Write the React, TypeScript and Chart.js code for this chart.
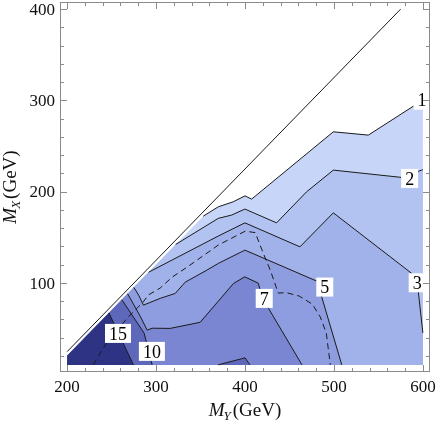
import React, { useEffect, useRef } from "react";
import { Chart, registerables } from "chart.js";

Chart.register(...registerables);

type P = [number, number];

// ---- data ----
const xTicks = [200, 300, 400, 500, 600];
const yTicks = [100, 200, 300, 400];
const minorStep = 20;

const levels = [1, 2, 3, 5, 7, 10, 15];
const bandColors = ["#c7d5f8", "#b3c3f1", "#a1b1e9", "#8e9de0", "#7a86d1", "#5e68bb", "#2e3383"];

const contour1: P[] = [[353, 173], [370, 183.3], [386.8, 188.8], [400, 195.3], [407.4, 191.7], [499.3, 265.5], [538.7, 261.9], [589.3, 293.6], [600, 291.5]];
const contour2: P[] = [[322, 142], [369.9, 170.6], [384.9, 174.2], [399.9, 180.8], [435.5, 165.7], [469.2, 199.7], [499.3, 223.5], [576.1, 215.5], [598.6, 223.5], [600, 224]];
const contour3: P[] = [[291.5, 111.5], [369.9, 151.2], [399.9, 165.7], [461.8, 139.4], [499.3, 176.7], [587.4, 110.3], [594.9, 89.8], [600, 45]];
const contour5: P[] = [[275, 95], [280.4, 86.5], [285.8, 75.5], [304.6, 82.9], [321.5, 88.3], [332.8, 100.7], [357.2, 113.9], [369.9, 121.2], [399.9, 135.8], [482.4, 101.1], [486.3, 84.3], [508.8, 10]];
const contour7: P[] = [[268, 88], [282.1, 63.5], [290, 48.1], [295.6, 50.2], [315.9, 50], [349.6, 56.7], [387.1, 99.3], [399.7, 106.5], [414.9, 99.6], [419.4, 84.3], [426.5, 71.9], [464.1, 10]];
const contour10: P[] = [[261.5, 81.5], [286.6, 44.8], [295.6, 10]];
const contour10b: P[] = [[369.9, 10], [396.1, 16.7], [399.9, 17.8], [405.6, 10]];
const contour15: P[] = [[247, 67], [274.6, 10]];
const dashed: P[] = [[229.3, 10], [245, 35], [268.6, 62.4], [285.5, 78.8], [291.1, 86.5], [304.6, 94.2], [318.1, 106.2], [335, 117.2], [369.9, 141.3], [400.3, 156.6], [411.5, 155], [420.5, 132.5], [428.4, 113.9], [437.4, 88.7], [446.4, 89.2], [461, 85.4], [475.7, 76.6], [484.7, 62.4], [491.4, 44.9], [495.9, 10]];
const diagonal: P[] = [[200, 24.5], [575, 400]];

// domain boundary used to close each region
const closeViaRight: P[] = [[600, 10], [200, 10], [200, 20]];
const closeViaBottom: P[] = [[200, 10], [200, 20]];

const labelText = ["1", "2", "3", "5", "7", "10", "15"];
const labelX = [599, 585.1, 593.6, 489.7, 421.6, 295.3, 257.2];
const labelY = [300.2, 214.4, 100.0, 95.3, 82.9, 24.8, 44.5];

// ---- helpers ----
const serif = '"Liberation Serif", "DejaVu Serif", "Times New Roman", serif';
const pts = (a: P[]) => a.map(([x, y]) => ({ x, y }));

const decor = {
  id: "decor",
  afterDatasetsDraw(chart: any) {
    const { ctx, scales } = chart;
    const xs = scales.x, ys = scales.y;
    ctx.save();
    ctx.font = `18px ${serif}`;
    ctx.textAlign = "center";
    ctx.textBaseline = "alphabetic";
    labelText.forEach((t, i) => {
      const px = xs.getPixelForValue(labelX[i]);
      const py = ys.getPixelForValue(labelY[i]);
      const w = ctx.measureText(t).width;
      ctx.fillStyle = "#ffffff";
      ctx.fillRect(px - w / 2 - 4, py - 9.5, w + 8, 19);
      ctx.fillStyle = "#000000";
      ctx.fillText(t, px, py + 6.2);
    });
    ctx.restore();
  },
  afterDraw(chart: any) {
    const { ctx, chartArea: a, scales } = chart;
    const xs = scales.x, ys = scales.y;
    ctx.save();
    // frame
    ctx.strokeStyle = "#8a8a8a";
    ctx.lineWidth = 1;
    ctx.strokeRect(a.left + 0.5, a.top + 0.5, a.right - a.left - 1, a.bottom - a.top - 1);
    // ticks
    ctx.beginPath();
    for (let v = 200; v <= 600; v += minorStep) {
      const px = Math.round(xs.getPixelForValue(v)) + 0.5;
      const len = v % 100 === 0 ? 7 : 4;
      ctx.moveTo(px, a.bottom); ctx.lineTo(px, a.bottom - len);
      ctx.moveTo(px, a.top); ctx.lineTo(px, a.top + len);
    }
    for (let v = 20; v <= 400; v += minorStep) {
      const py = Math.round(ys.getPixelForValue(v)) + 0.5;
      const len = v % 100 === 0 ? 7 : 4;
      ctx.moveTo(a.left, py); ctx.lineTo(a.left + len, py);
      ctx.moveTo(a.right, py); ctx.lineTo(a.right - len, py);
    }
    ctx.stroke();
    // tick labels
    ctx.fillStyle = "#111111";
    ctx.font = `17px ${serif}`;
    ctx.textBaseline = "alphabetic";
    ctx.textAlign = "center";
    xTicks.forEach((v) => ctx.fillText(String(v), xs.getPixelForValue(v), a.bottom + 20));
    ctx.textAlign = "right";
    yTicks.forEach((v) => ctx.fillText(String(v), a.left - 5, ys.getPixelForValue(v) + 5.8));
    // axis titles
    const drawTitle = (sub: string) => {
      const big = `italic 19px ${serif}`;
      const small = `italic 13px ${serif}`;
      const rom = `19px ${serif}`;
      ctx.font = big; const w1 = ctx.measureText("M").width;
      ctx.font = small; const w2 = ctx.measureText(sub).width;
      ctx.font = rom; const w3 = ctx.measureText("(GeV)").width;
      const total = w1 + w2 + 1 + w3;
      let x0 = -total / 2;
      ctx.textAlign = "left";
      ctx.font = big; ctx.fillText("M", x0, 0); x0 += w1;
      ctx.font = small; ctx.fillText(sub, x0 - 1, 4); x0 += w2 + 1;
      ctx.font = rom; ctx.fillText("(GeV)", x0, 0);
    };
    ctx.fillStyle = "#111111";
    ctx.save();
    ctx.translate((a.left + a.right) / 2, 416);
    drawTitle("Y");
    ctx.restore();
    ctx.save();
    ctx.translate(16, (a.top + a.bottom) / 2);
    ctx.rotate(-Math.PI / 2);
    drawTitle("X");
    ctx.restore();
    ctx.restore();
  },
};

export default function App() {
  const ref = useRef<HTMLCanvasElement | null>(null);
  useEffect(() => {
    if (!ref.current) return;
    const regions: { pts: P[]; color: string }[] = [
      { pts: [...contour1, ...closeViaRight], color: bandColors[0] },
      { pts: [...contour2, ...closeViaRight], color: bandColors[1] },
      { pts: [...contour3, ...closeViaRight], color: bandColors[2] },
      { pts: [...contour5, ...closeViaBottom], color: bandColors[3] },
      { pts: [...contour7, ...closeViaBottom], color: bandColors[4] },
      { pts: [...contour10, ...closeViaBottom], color: bandColors[5] },
      { pts: [...contour10b], color: bandColors[5] },
      { pts: [...contour15, ...closeViaBottom], color: bandColors[6] },
    ];
    const fillSets = regions.map((r, i) => ({
      label: "region" + i,
      data: pts(r.pts),
      backgroundColor: r.color,
      borderWidth: 0,
      borderColor: "rgba(0,0,0,0)",
      fill: "shape",
      pointRadius: 0,
      order: 100 - i,
    }));
    const lineSets = [contour1, contour2, contour3, contour5, contour7, contour10, contour10b, contour15].map((c, i) => ({
      label: "contour " + levels[Math.min(i, levels.length - 1)],
      data: pts(c),
      borderColor: "#1a1a1a",
      borderWidth: 1,
      fill: false,
      pointRadius: 0,
      order: 10,
    }));
    const extra = [
      { label: "dashed", data: pts(dashed), borderColor: "#1a1a1a", borderWidth: 1, borderDash: [6, 4], fill: false, pointRadius: 0, order: 9 },
      { label: "diagonal", data: pts(diagonal), borderColor: "#1a1a1a", borderWidth: 1, fill: false, pointRadius: 0, order: 8 },
    ];
    const chart = new Chart(ref.current, {
      type: "line",
      data: { datasets: [...fillSets, ...lineSets, ...extra] as any },
      options: {
        responsive: false,
        animation: false,
        devicePixelRatio: 1,
        layout: { padding: { left: 60, right: 6, top: 2, bottom: 52 } },
        scales: {
          x: { type: "linear", min: 192, max: 608, display: false },
          y: { type: "linear", min: 2.2, max: 407.8, display: false },
        },
        elements: { line: { tension: 0 }, point: { radius: 0 } },
        plugins: { legend: { display: false }, tooltip: { enabled: false } },
      } as any,
      plugins: [decor],
    });
    return () => chart.destroy();
  }, []);
  return (
    <div style={{ position: "fixed", left: 0, top: 0, width: 436, height: 424, background: "#fff" }}>
      <canvas ref={ref} width={436} height={424} style={{ display: "block" }} />
    </div>
  );
}
